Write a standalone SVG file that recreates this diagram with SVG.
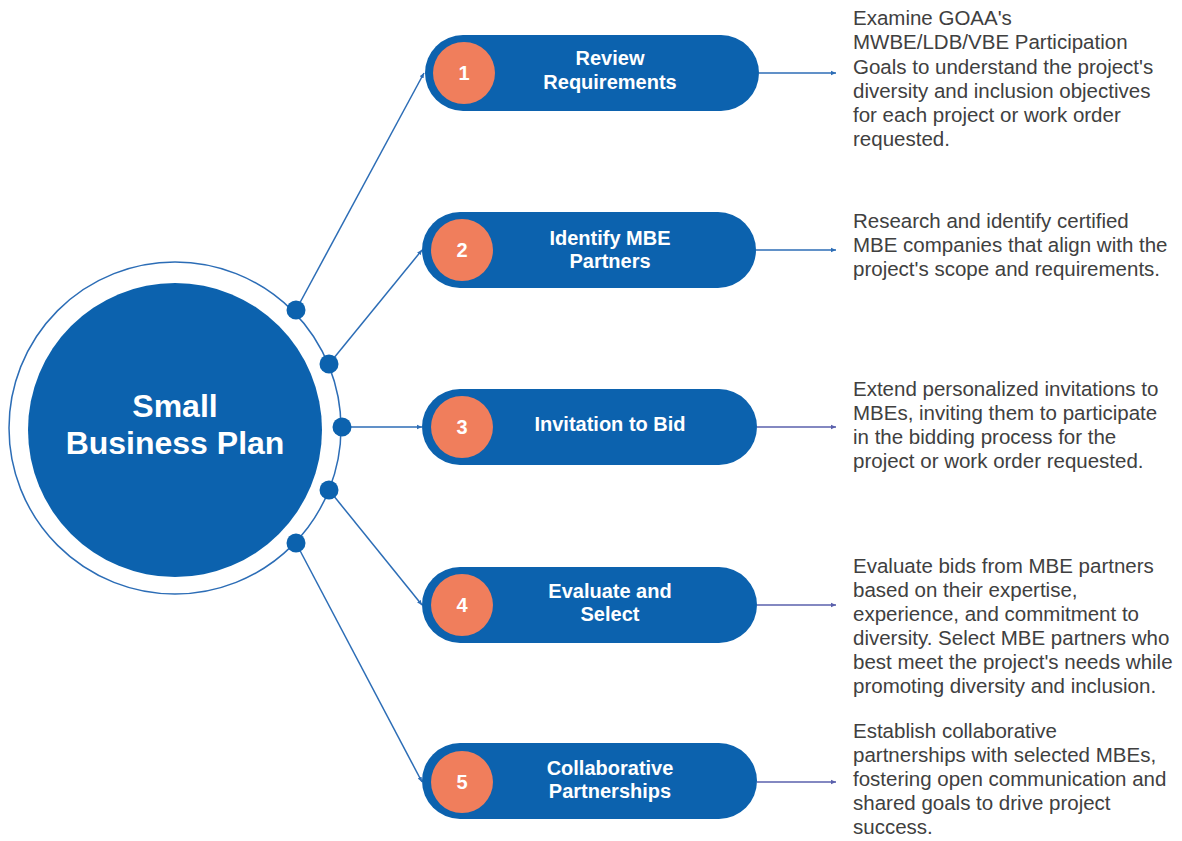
<svg xmlns="http://www.w3.org/2000/svg" width="1182" height="841" viewBox="0 0 1182 841">
  <style>
    .pill { fill: #0C62AE; }
    .badge { fill: #F07E5C; }
    .num { font-family: "Liberation Sans", Arial, sans-serif; font-weight: bold; font-size: 20px; fill: #ffffff; text-anchor: middle; }
    .label { font-family: "Liberation Sans", Arial, sans-serif; font-weight: bold; font-size: 20px; fill: #ffffff; text-anchor: middle; }
    .desc { font-family: "Liberation Sans", Arial, sans-serif; font-size: 20.5px; fill: #404040; }
    .hub-title { font-family: "Liberation Sans", Arial, sans-serif; font-weight: bold; font-size: 32px; fill: #ffffff; text-anchor: middle; }
    .spoke { stroke: #2C6DB6; stroke-width: 1.5; fill: none; }
    .lead-a { stroke: #2C6DB6; stroke-width: 1.5; fill: none; }
    .lead-b { stroke: #5A60AC; stroke-width: 1.5; fill: none; }
    .dot { fill: #0C62AE; }
  </style>
  <defs>
    <marker id="tipBlue" markerWidth="6" markerHeight="6" refX="5" refY="3" orient="auto" markerUnits="userSpaceOnUse">
      <path d="M0,0.8 L5,3 L0,5.2 Z" fill="#2C6DB6"/>
    </marker>
    <marker id="tipIndigo" markerWidth="6" markerHeight="6" refX="5" refY="3" orient="auto" markerUnits="userSpaceOnUse">
      <path d="M0,0.8 L5,3 L0,5.2 Z" fill="#5A60AC"/>
    </marker>
  </defs>

  <rect width="1182" height="841" fill="#ffffff"/>

  <!-- connectors: hub spokes and description leaders -->
  <g id="connectors">
    <line class="spoke" x1="296" y1="310" x2="424" y2="73" marker-end="url(#tipBlue)"/>
    <line class="spoke" x1="329" y1="364" x2="422" y2="250" marker-end="url(#tipBlue)"/>
    <line class="spoke" x1="342" y1="427" x2="422" y2="427" marker-end="url(#tipBlue)"/>
    <line class="spoke" x1="329" y1="490" x2="422" y2="605" marker-end="url(#tipBlue)"/>
    <line class="spoke" x1="296" y1="543" x2="422" y2="782" marker-end="url(#tipBlue)"/>

    <line class="lead-a" x1="759" y1="73" x2="836" y2="73" marker-end="url(#tipBlue)"/>
    <line class="lead-a" x1="756" y1="250" x2="836" y2="250" marker-end="url(#tipBlue)"/>
    <line class="lead-b" x1="757" y1="427" x2="836" y2="427" marker-end="url(#tipIndigo)"/>
    <line class="lead-b" x1="757" y1="605" x2="836" y2="605" marker-end="url(#tipIndigo)"/>
    <line class="lead-b" x1="757" y1="782" x2="836" y2="782" marker-end="url(#tipIndigo)"/>
  </g>

  <!-- central hub -->
  <g id="hub">
    <circle cx="175" cy="428" r="166" fill="#ffffff" stroke="#2C6DB6" stroke-width="1.5"/>
    <circle cx="175" cy="430" r="147" fill="#0C62AE"/>
    <text class="hub-title" x="175" y="417">Small</text>
    <text class="hub-title" x="175" y="454">Business Plan</text>
    <circle class="dot" cx="296" cy="310" r="9.5"/>
    <circle class="dot" cx="329" cy="364" r="9.5"/>
    <circle class="dot" cx="342" cy="427" r="9.5"/>
    <circle class="dot" cx="329" cy="490" r="9.5"/>
    <circle class="dot" cx="296" cy="543" r="9.5"/>
  </g>

  <!-- step 1 -->
  <g id="step1">
    <rect class="pill" x="425" y="35" width="334" height="76" rx="38"/>
    <circle class="badge" cx="464" cy="73" r="31"/>
    <text class="num" x="464" y="80">1</text>
    <text class="label" x="610" y="65">Review</text>
    <text class="label" x="610" y="89">Requirements</text>
  </g>
  <g id="desc1">
    <text class="desc" x="853" y="25">Examine GOAA's</text>
    <text class="desc" x="853" y="49">MWBE/LDB/VBE Participation</text>
    <text class="desc" x="853" y="73.5">Goals to understand the project's</text>
    <text class="desc" x="853" y="97.5">diversity and inclusion objectives</text>
    <text class="desc" x="853" y="122">for each project or work order</text>
    <text class="desc" x="853" y="146">requested.</text>
  </g>

  <!-- step 2 -->
  <g id="step2">
    <rect class="pill" x="422" y="212" width="334" height="76" rx="38"/>
    <circle class="badge" cx="462" cy="250" r="31"/>
    <text class="num" x="462" y="257">2</text>
    <text class="label" x="610" y="245">Identify MBE</text>
    <text class="label" x="610" y="268">Partners</text>
  </g>
  <g id="desc2">
    <text class="desc" x="853" y="228">Research and identify certified</text>
    <text class="desc" x="853" y="252">MBE companies that align with the</text>
    <text class="desc" x="853" y="276">project's scope and requirements.</text>
  </g>

  <!-- step 3 -->
  <g id="step3">
    <rect class="pill" x="422" y="389" width="335" height="76" rx="38"/>
    <circle class="badge" cx="462" cy="427" r="31"/>
    <text class="num" x="462" y="434">3</text>
    <text class="label" x="610" y="431">Invitation to Bid</text>
  </g>
  <g id="desc3">
    <text class="desc" x="853" y="396">Extend personalized invitations to</text>
    <text class="desc" x="853" y="420">MBEs, inviting them to participate</text>
    <text class="desc" x="853" y="444">in the bidding process for the</text>
    <text class="desc" x="853" y="468">project or work order requested.</text>
  </g>

  <!-- step 4 -->
  <g id="step4">
    <rect class="pill" x="422" y="567" width="335" height="76" rx="38"/>
    <circle class="badge" cx="462" cy="605" r="31"/>
    <text class="num" x="462" y="612">4</text>
    <text class="label" x="610" y="598">Evaluate and</text>
    <text class="label" x="610" y="621">Select</text>
  </g>
  <g id="desc4">
    <text class="desc" x="853" y="573">Evaluate bids from MBE partners</text>
    <text class="desc" x="853" y="597">based on their expertise,</text>
    <text class="desc" x="853" y="621">experience, and commitment to</text>
    <text class="desc" x="853" y="645">diversity. Select MBE partners who</text>
    <text class="desc" x="853" y="669">best meet the project's needs while</text>
    <text class="desc" x="853" y="693">promoting diversity and inclusion.</text>
  </g>

  <!-- step 5 -->
  <g id="step5">
    <rect class="pill" x="422" y="743" width="335" height="76" rx="38"/>
    <circle class="badge" cx="462" cy="782" r="31"/>
    <text class="num" x="462" y="789">5</text>
    <text class="label" x="610" y="775">Collaborative</text>
    <text class="label" x="610" y="798">Partnerships</text>
  </g>
  <g id="desc5">
    <text class="desc" x="853" y="738">Establish collaborative</text>
    <text class="desc" x="853" y="762">partnerships with selected MBEs,</text>
    <text class="desc" x="853" y="786">fostering open communication and</text>
    <text class="desc" x="853" y="810">shared goals to drive project</text>
    <text class="desc" x="853" y="834">success.</text>
  </g>
</svg>
